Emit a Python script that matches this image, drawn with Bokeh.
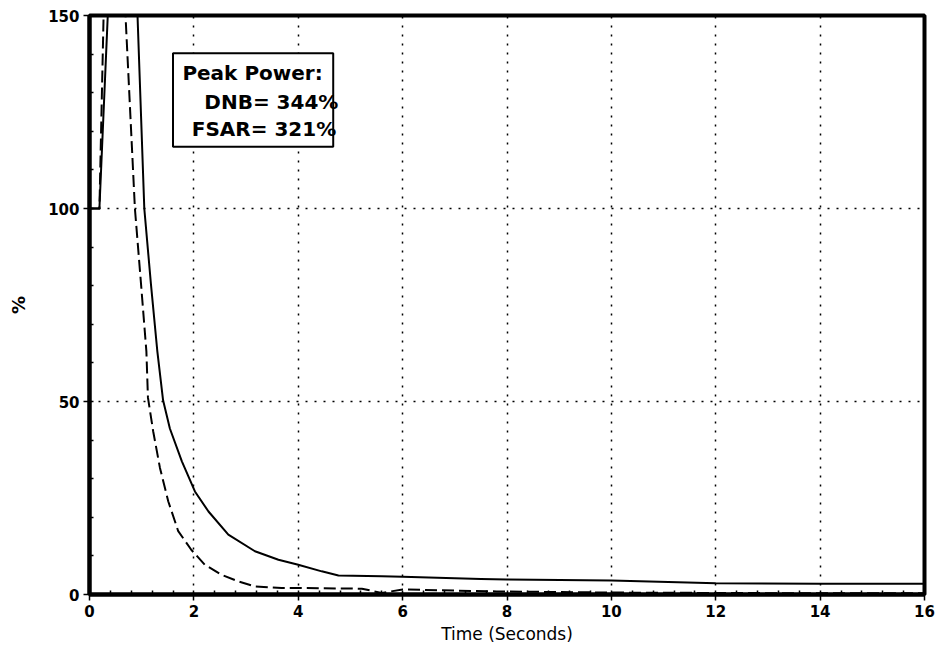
from bokeh.plotting import figure
from bokeh.models import Range1d, FixedTicker, Label, BoxAnnotation
from bokeh.embed import file_html
from bokeh.resources import INLINE

# Data
time_solid = [0, 0.19, 0.35, 0.62, 0.92, 1.05, 1.18, 1.30, 1.41, 1.54, 1.77, 2.02, 2.28,
              2.66, 3.17, 3.62, 4.0, 4.45, 4.77, 5.6, 6.0, 7.5, 8.0, 10.0, 12.0, 14.0, 16.0]
power_solid = [100, 100, 150, 344, 150, 100, 80, 63, 50.3, 43, 34.5, 26.7, 21.5,
               15.5, 11.2, 9.0, 7.7, 6.0, 4.9, 4.7, 4.6, 4.0, 3.9, 3.6, 2.9, 2.8, 2.8]

time_dashed = [0, 0.19, 0.27, 0.48, 0.69, 0.87, 0.99, 1.09, 1.12, 1.22, 1.35, 1.51, 1.70,
               1.95, 2.21, 2.53, 2.85, 3.17, 3.68, 4.0, 5.22, 5.6, 6.0, 7.8, 10.0, 12.0,
               14.0, 16.0]
power_dashed = [100, 100, 150, 321, 150, 100, 80, 63, 51, 42.3, 32.8, 24.1, 16.4,
                11.6, 7.7, 5.1, 3.4, 2.1, 1.7, 1.7, 1.5, 0.4, 1.3, 0.8, 0.5, 0.4,
                0.3, 0.3]

x_ticks = [0, 2, 4, 6, 8, 10, 12, 14, 16]
y_ticks = [0, 50, 100, 150]
x_minor = [round(i * 0.4, 2) for i in range(41)]
y_minor = list(range(0, 151, 10))

box_lines = ["Peak Power:", "DNB= 344%", "FSAR= 321%"]

p = figure(width=936, height=652, output_backend="svg", toolbar_location=None,
           x_range=Range1d(0, 16), y_range=Range1d(0, 150),
           min_border_left=89, min_border_right=12, min_border_top=15, min_border_bottom=58)

p.background_fill_color = "white"
p.border_fill_color = "white"
p.outline_line_color = "black"
p.outline_line_width = 4

p.xaxis.ticker = FixedTicker(ticks=x_ticks, minor_ticks=x_minor)
p.yaxis.ticker = FixedTicker(ticks=y_ticks, minor_ticks=y_minor)
for ax in (p.xaxis, p.yaxis):
    ax.axis_line_width = 4
    ax.axis_line_color = "black"
    ax.major_tick_line_color = "black"
    ax.major_tick_line_width = 1.5
    ax.major_tick_out = 6
    ax.major_tick_in = 0
    ax.minor_tick_line_color = "black"
    ax.minor_tick_line_width = 1.5
    ax.minor_tick_in = 4
    ax.minor_tick_out = 0
    ax.major_label_text_font = "DejaVu Sans"
    ax.major_label_text_font_style = "bold"
    ax.major_label_text_font_size = "15px"
    ax.major_label_text_color = "black"
    ax.axis_label_text_color = "black"
    ax.axis_label_text_font = "DejaVu Sans"

p.xaxis.axis_label = "Time (Seconds)"
p.xaxis.axis_label_text_font_style = "normal"
p.xaxis.axis_label_text_font_size = "17px"
p.xaxis.axis_label_standoff = 4
p.xaxis.major_label_standoff = 4

p.yaxis.axis_label = "%"
p.yaxis.axis_label_text_font_style = "bold"
p.yaxis.axis_label_text_font_size = "18px"
p.yaxis.axis_label_standoff = 16
p.yaxis.major_label_standoff = 4

for g in (p.xgrid, p.ygrid):
    g.grid_line_color = "black"
    g.grid_line_dash = "2 7"
    g.grid_line_width = 1.5

p.line(time_solid, power_solid, line_color="black", line_width=2, line_join="round")
p.line(time_dashed, power_dashed, line_color="black", line_width=2, line_dash="12 5",
       line_join="round")

box = BoxAnnotation(left=1.6, right=4.67, bottom=116, top=140.2,
                    fill_color="white", fill_alpha=1.0,
                    line_color="black", line_alpha=1.0, line_width=2)
p.add_layout(box)

label_x = [1.78, 2.2, 1.96]
label_y = [135.0, 127.6, 120.6]
for txt, lx, ly in zip(box_lines, label_x, label_y):
    p.add_layout(Label(x=lx, y=ly, text=txt, text_font="DejaVu Sans",
                       text_font_style="bold", text_font_size="20px",
                       text_baseline="middle", text_align="left", text_color="black"))

open("out.html", "w").write(file_html(p, INLINE))
